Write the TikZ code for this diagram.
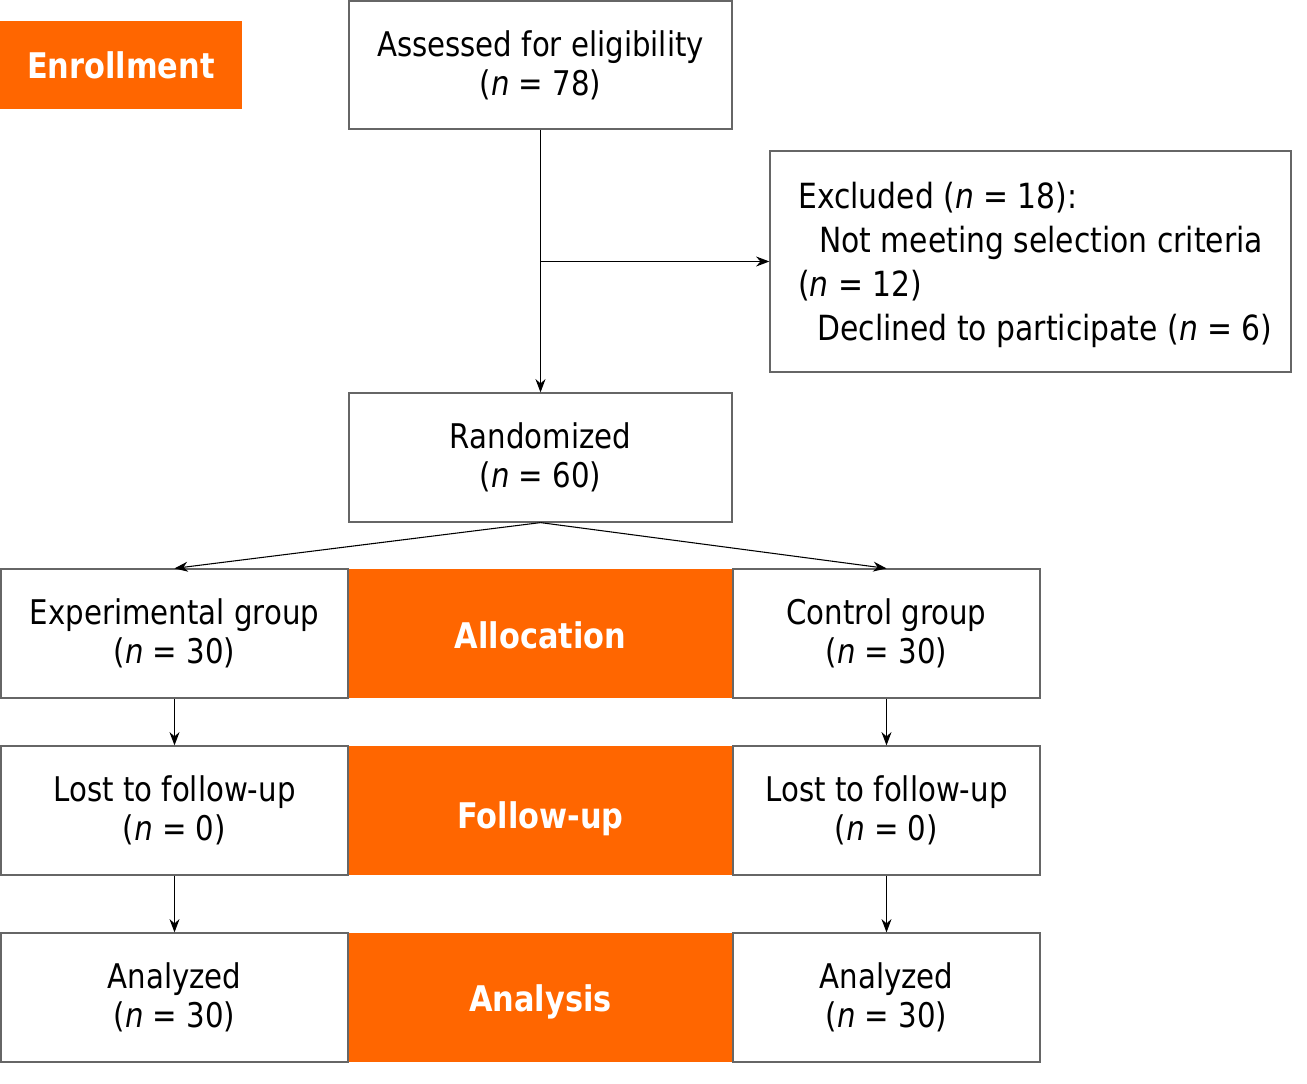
\documentclass[tikz,border=0pt]{standalone}
\usepackage{fontspec}
\setmainfont{DejaVu Sans}[FakeStretch=0.86]
\usetikzlibrary{arrows.meta}
\definecolor{borange}{HTML}{FF6600}
\definecolor{bgray}{HTML}{666666}
\tikzset{
  x=0.75pt, y=-0.75pt,
  box/.style={draw=bgray, line width=0.9pt, fill=white, inner sep=0pt, align=center, font=\fontsize{25.5}{29.5}\selectfont},
  stage/.style={fill=borange, inner sep=0pt, align=center, text=white, text height=22pt, text depth=0pt, font=\fontsize{26.5}{30}\selectfont\bfseries},
  conn/.style={draw=black, line width=0.8pt, -{Stealth[length=10pt,width=7.5pt]}},
}
\newcommand{\nn}{\textit{n}}
\begin{document}
\begin{tikzpicture}
\useasboundingbox (0,0) rectangle (1307,1084);
% stages
\node[stage, minimum width=242*0.75pt, minimum height=88*0.75pt, text height=21pt] (enr) at (121,65) {Enrollment};
\node[stage, minimum width=385*0.75pt, minimum height=129*0.75pt, text height=23pt] (alloc) at (540.5,633.5) {Allocation};
\node[stage, minimum width=385*0.75pt, minimum height=129*0.75pt, text height=27.5pt] (fup) at (540.5,810.5) {Follow-up};
\node[stage, minimum width=385*0.75pt, minimum height=129*0.75pt, text height=20.5pt] (ana) at (540.5,997.5) {Analysis};
% boxes
\node[box, minimum width=383*0.75pt, minimum height=128*0.75pt] (assess) at (540.5,65) {Assessed for eligibility\\(\nn{} = 78)};
\node[box, minimum width=521*0.75pt, minimum height=221*0.75pt] (excl) at (1030.5,261.5) {};
\node[anchor=west, inner sep=0pt, align=left, font=\fontsize{26}{32.8}\selectfont] (excltext) at (798,265) {Excluded (\nn{} = 18):\\\hspace*{0.6em}Not meeting selection criteria\\(\nn{} = 12)\\\hspace*{0.55em}Declined to participate (\nn{} = 6)};
\node[box, minimum width=383*0.75pt, minimum height=129*0.75pt] (rand) at (540.5,457.5) {Randomized\\(\nn{} = 60)};
\node[box, minimum width=347*0.75pt, minimum height=129*0.75pt] (exp) at (174.5,633.5) {Experimental group\\(\nn{} = 30)};
\node[box, minimum width=307*0.75pt, minimum height=129*0.75pt] (ctrl) at (886.5,633.5) {Control group\\(\nn{} = 30)};
\node[box, minimum width=347*0.75pt, minimum height=129*0.75pt] (lostl) at (174.5,810.5) {Lost to follow-up\\(\nn{} = 0)};
\node[box, minimum width=307*0.75pt, minimum height=129*0.75pt] (lostr) at (886.5,810.5) {Lost to follow-up\\(\nn{} = 0)};
\node[box, minimum width=347*0.75pt, minimum height=129*0.75pt] (anal) at (174.5,997.5) {Analyzed\\(\nn{} = 30)};
\node[box, minimum width=307*0.75pt, minimum height=129*0.75pt] (anar) at (886.5,997.5) {Analyzed\\(\nn{} = 30)};
% connectors
\coordinate (split) at (assess.south |- excl.west);
\draw[conn] (assess.south) -- (rand.north);
\draw[conn] (split) -- (excl.west);
\draw[conn] (rand.south) -- (exp.north);
\draw[conn] (rand.south) -- (ctrl.north);
\draw[conn] (exp.south) -- (lostl.north);
\draw[conn] (ctrl.south) -- (lostr.north);
\draw[conn] (lostl.south) -- (anal.north);
\draw[conn] (lostr.south) -- (anar.north);
\end{tikzpicture}
\end{document}
